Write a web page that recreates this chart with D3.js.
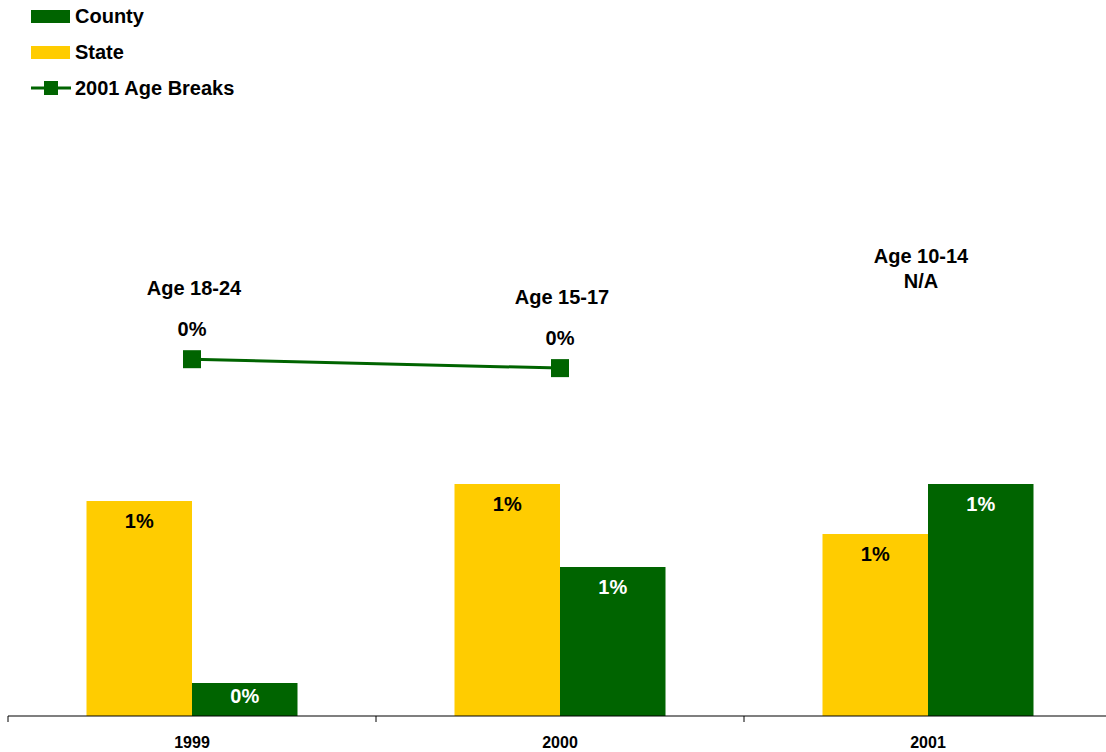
<!DOCTYPE html>
<html><head><meta charset="utf-8">
<script src="https://cdn.jsdelivr.net/npm/d3@7"></script>
<style>body{margin:0;background:#fff}svg{display:block}text{font-family:"Liberation Sans",Arial,sans-serif;font-weight:bold}</style>
</head><body><svg id="c" width="1106" height="752"></svg>
<script>
const years = ["1999","2000","2001"];
const stateVals = [0.834, 0.90, 0.706];
const countyVals = [0.128, 0.578, 0.90];
const stateLabels = ["1%","1%","1%"];
const countyLabels = ["0%","1%","1%"];
const ageBreakVals = [0.40, 0.39, null];
const ageBreakLabels = ["0%","0%",null];
const ageGroups = ["Age 18-24","Age 15-17","Age 10-14"];
const colors = {county:"#006400", state:"#FFCC00"};
const FS = 20;

const svg = d3.select("#c");
const x = d3.scaleBand().domain(years).range([8,1112]).paddingInner(0).paddingOuter(0);
const y = d3.scaleLinear().domain([0,0.9]).range([716,484]);
const y2 = d3.scaleLinear().domain([0,0.5]).range([716,270]);
const bw = 105.5;

// bars
years.forEach((yr,i)=>{
  const cx = x(yr)+x.bandwidth()/2;
  svg.append("rect").attr("x",cx-bw).attr("y",y(stateVals[i])).attr("width",bw).attr("height",y(0)-y(stateVals[i])).attr("fill",colors.state);
  svg.append("rect").attr("x",cx).attr("y",y(countyVals[i])).attr("width",bw).attr("height",y(0)-y(countyVals[i])).attr("fill",colors.county);
  svg.append("text").attr("x",cx-bw/2).attr("y",y(stateVals[i])+27).attr("text-anchor","middle").attr("font-size",FS).attr("fill","#000").text(stateLabels[i]);
  const cy = Math.min(y(countyVals[i])+27, y(0)-13);
  svg.append("text").attr("x",cx+bw/2).attr("y",cy).attr("text-anchor","middle").attr("font-size",FS).attr("fill","#fff").text(countyLabels[i]);
});

// axis
const axisG = svg.append("g").attr("transform","translate(0,716)");
axisG.append("line").attr("x1",8).attr("x2",1106).attr("y1",0).attr("y2",0).attr("stroke","#000").attr("stroke-width",1.2);
years.forEach(yr=>{
  axisG.append("line").attr("x1",x(yr)).attr("x2",x(yr)).attr("y1",0).attr("y2",6).attr("stroke","#000");
  axisG.append("text").attr("x",x(yr)+x.bandwidth()/2).attr("y",32).attr("text-anchor","middle").attr("font-size",16).text(yr);
});

// line
const pts = years.map((yr,i)=>({x:x(yr)+x.bandwidth()/2, v:ageBreakVals[i], i})).filter(d=>d.v!=null);
svg.append("path").datum(pts).attr("d",d3.line().x(d=>d.x).y(d=>y2(d.v))).attr("fill","none").attr("stroke",colors.county).attr("stroke-width",3);
pts.forEach(d=>{
  svg.append("rect").attr("x",d.x-9).attr("y",y2(d.v)-9).attr("width",18).attr("height",18).attr("fill",colors.county);
  svg.append("text").attr("x",d.x).attr("y",y2(d.v)-23).attr("text-anchor","middle").attr("font-size",FS).text(ageBreakLabels[d.i]);
  svg.append("text").attr("x",d.x+2).attr("y",y2(d.v)-64).attr("text-anchor","middle").attr("font-size",FS).text(ageGroups[d.i]);
});
// N/A label
{
  const cx = x(years[2])+x.bandwidth()/2;
  svg.append("text").attr("x",cx-7).attr("y",263).attr("text-anchor","middle").attr("font-size",FS).text(ageGroups[2]);
  svg.append("text").attr("x",cx-7).attr("y",288).attr("text-anchor","middle").attr("font-size",FS).text("N/A");
}

// legend
const leg = svg.append("g");
leg.append("rect").attr("x",31).attr("y",10).attr("width",39).attr("height",13).attr("fill",colors.county);
leg.append("text").attr("x",75).attr("y",23).attr("font-size",FS).text("County");
leg.append("rect").attr("x",31).attr("y",46).attr("width",39).attr("height",13).attr("fill",colors.state);
leg.append("text").attr("x",75).attr("y",59).attr("font-size",FS).text("State");
leg.append("line").attr("x1",31).attr("x2",71).attr("y1",88).attr("y2",88).attr("stroke",colors.county).attr("stroke-width",3);
leg.append("rect").attr("x",44).attr("y",81).attr("width",14).attr("height",14).attr("fill",colors.county);
leg.append("text").attr("x",75).attr("y",95).attr("font-size",FS).text("2001 Age Breaks");
</script></body></html>
